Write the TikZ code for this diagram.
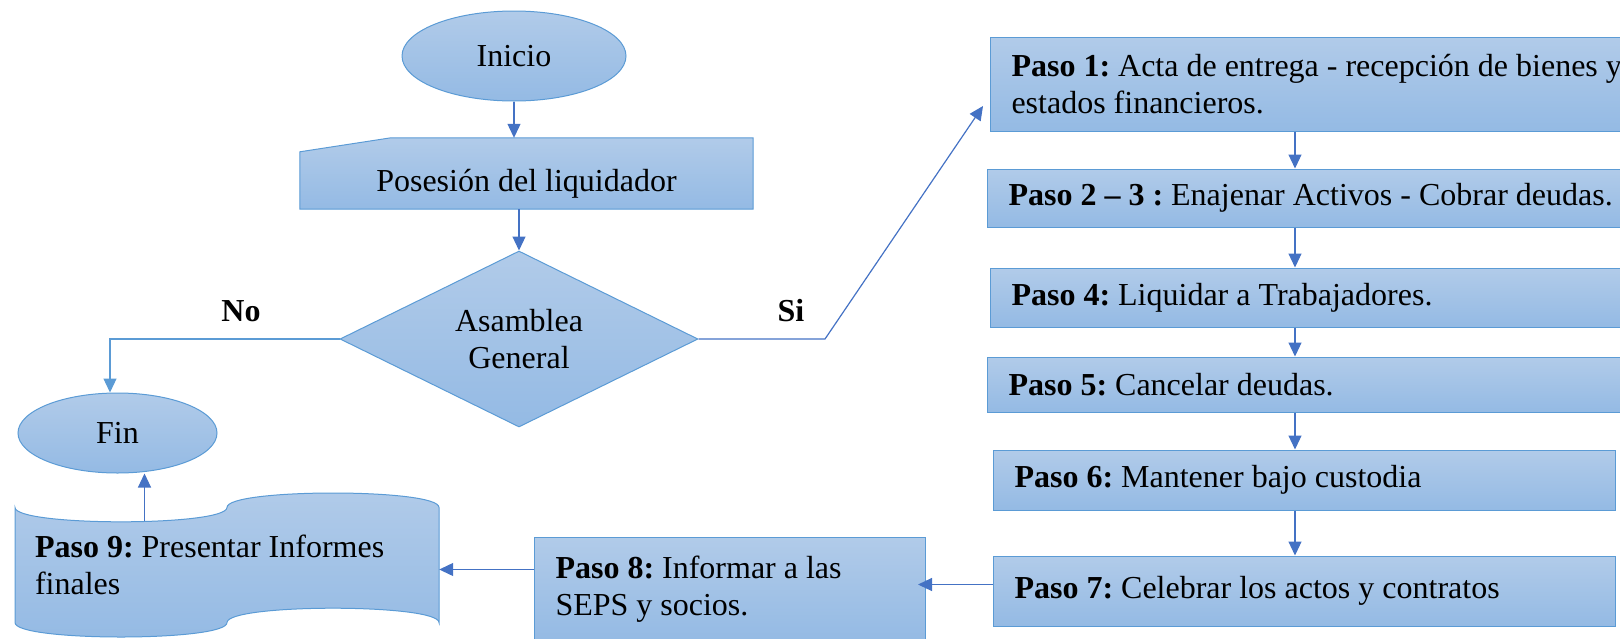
\documentclass[tikz,border=0pt]{standalone}
\usepackage{fontspec}
\setmainfont{Liberation Serif}
\usetikzlibrary{shapes.geometric, arrows.meta, backgrounds}
\frenchspacing

\definecolor{borde}{RGB}{91,155,213}
\definecolor{azulflecha}{RGB}{68,114,196}
\definecolor{rellenoA}{RGB}{177,203,233}
\definecolor{rellenoB}{RGB}{148,186,228}

\newcommand{\letra}{\fontsize{32}{37}\selectfont}

\begin{document}
\begin{tikzpicture}[x=1pt, y=-1pt,
        relleno/.style={top color=rellenoA, bottom color=rellenoB},
        caja/.style={relleno, draw=borde, line width=1pt, font=\letra, inner sep=0pt},
        espacios/.style={execute at begin node={\spaceskip=0pt\xspaceskip=0pt}},
        paso/.style={caja, rectangle, anchor=west, align=left, espacios, inner xsep=21pt, inner ysep=0pt},
        flecha/.style={draw=azulflecha, line width=1.2pt, -{Triangle[length=14pt, width=13pt]}},
        etiqueta/.style={font=\letra\bfseries, inner sep=0pt}
    ]
        \useasboundingbox (0,0) rectangle (1620,638);

        % --- 左の列 ---
        \node[caja, ellipse, minimum width=224pt, minimum height=90pt] (inicio) at (514,56) {Inicio};
        \node[font=\letra, minimum width=453pt, minimum height=71pt, inner sep=0pt,
              text height=43pt, text depth=7pt] (posesion) at (526.5,173.5) {Posesión del liquidador};
        \node[caja, diamond, aspect=2, minimum width=358pt, minimum height=176pt, align=center]
            (asamblea) at (519,339) {Asamblea\\General};
        \node[caja, ellipse, minimum width=199pt, minimum height=80pt] (fin) at (117.5,433) {Fin};
        \node[font=\letra, align=left, espacios, text width=384pt, inner xsep=20pt, inner ysep=0pt,
              minimum height=115pt] (paso9) at (227,565) {\textbf{Paso 9:} Presentar Informes\\finales};

        % ★★★ カード形とテープ形は背景に描く ★★★
        \begin{scope}[on background layer]
            \path[relleno, draw=borde, line width=1pt]
                ([yshift=-14pt]posesion.north west) -- ([xshift=91pt]posesion.north west)
                -- (posesion.north east) -- (posesion.south east) -- (posesion.south west) -- cycle;
        \end{scope}
        \begin{scope}[on background layer, shift={(paso9.center)}]
            \path[relleno, draw=borde, line width=1pt]
                (-212,-57.6) .. controls (-212,-38.4) and (0,-38.4) .. (0,-57.6)
                .. controls (0,-76.8) and (212,-76.8) .. (212,-57.6)
                -- (212,57.6) .. controls (212,38.4) and (0,38.4) .. (0,57.6)
                .. controls (0,76.8) and (-212,76.8) .. (-212,57.6) -- cycle;
        \end{scope}

        % --- 右の列 ---
        \node[paso, text width=628pt, minimum height=94pt] (paso1) at (990,84)
            {\textbf{Paso 1:} Acta de entrega - recepción de bienes y\\estados financieros.};
        \node[paso, text width=631pt, minimum height=58pt] (paso23) at (987,198)
            {\textbf{Paso 2 – 3 :} Enajenar Activos - Cobrar deudas.};
        \node[paso, text width=628pt, minimum height=59pt] (paso4) at (990,297.5)
            {\textbf{Paso 4:} Liquidar a Trabajadores.};
        \node[paso, text width=631pt, minimum height=55pt] (paso5) at (987,384.5)
            {\textbf{Paso 5:} Cancelar deudas.};
        \node[paso, text width=580pt, minimum height=60pt] (paso6) at (993,480)
            {\textbf{Paso 6:} Mantener bajo custodia};
        \node[paso, text width=580pt, minimum height=70pt] (paso7) at (993,591)
            {\textbf{Paso 7:} Celebrar los actos y contratos};
        \node[paso, text width=349pt, minimum height=105pt] (paso8) at (534,589.5)
            {\textbf{Paso 8:} Informar a las\\SEPS y socios.};

        % --- ラベル ---
        \node[etiqueta] (no) at (241,311) {No};
        \node[etiqueta] (si) at (791,311) {Si};

        % --- 矢印 ---
        \draw[flecha] (inicio.south) -- (inicio.south |- posesion.north);
        \draw[flecha] (posesion.south -| asamblea.north) -- (asamblea.north);
        \draw[flecha, draw=borde] (asamblea.west) -| ([xshift=-7.5pt]fin.north);
        \coordinate (codo) at (825,339);
        \draw[flecha] (asamblea.east) -- (codo) -- ([xshift=-7pt, yshift=-22pt]paso1.west);
        \coordinate (col) at (1295,0);
        \foreach \a/\b in {paso1/paso23, paso23/paso4, paso4/paso5, paso5/paso6, paso6/paso7} {
            \draw[flecha] (\a.south -| col) -- (\b.north -| col);
        }
        \draw[flecha] ([yshift=6.5pt]paso7.west) -- ([xshift=-8pt, yshift=5pt]paso8.east);
        \draw[flecha] ([yshift=20pt]paso8.west) -- ([yshift=20pt]paso8.west -| paso9.east);
        \coordinate (cinta) at (144.5,521);
        \draw[flecha] (cinta) -- (cinta |- fin.south);

    \end{tikzpicture}
\end{document}
